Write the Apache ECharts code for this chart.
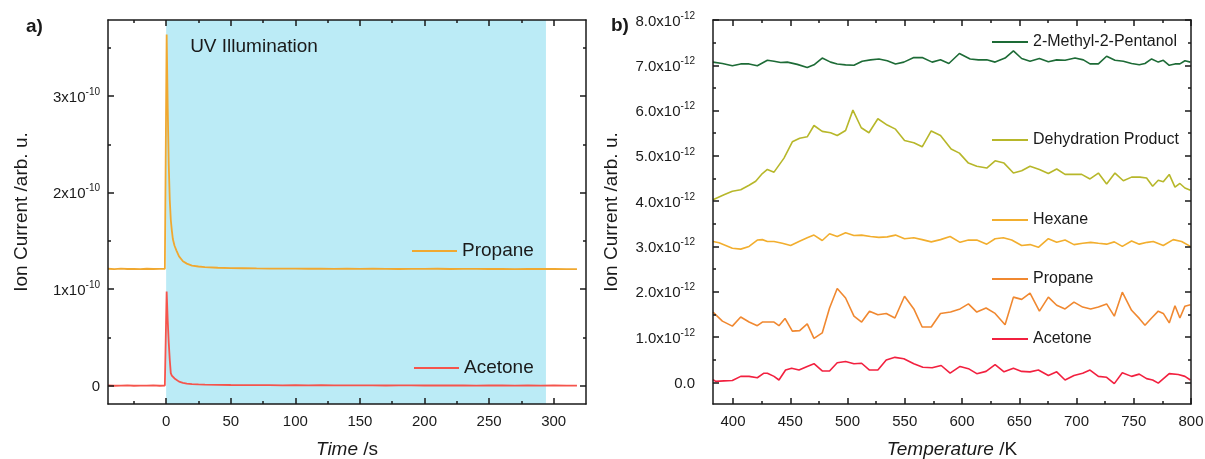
<!DOCTYPE html>
<html>
<head>
<meta charset="utf-8">
<title>Ion current traces</title>
<script src="https://cdn.jsdelivr.net/npm/echarts@6/dist/echarts.min.js"></script>
<style>
  html, body { margin: 0; padding: 0; background: #ffffff; }
  #chart { width: 1205px; height: 459px; }
</style>
</head>
<body>
<div id="chart"></div>
<script>
// ---------- panel a) : ion current during UV illumination (values in 1e-10 arb. u.) ----------
const timeS = [-45,-40,-35,-30,-25,-20,-15,-10,-5,-1,
  0,0.4,1.2,2.0,2.8,3.6,4.4,5.2,6.5,8,10,13,16,20,25,30,
  40,50,60,70,80,90,100,110,120,130,140,150,160,170,180,190,200,210,220,230,240,250,260,270,280,290,300,310,318];
const propaneUV = [1.212,1.208,1.213,1.209,1.211,1.207,1.212,1.209,1.211,1.210,
  1.210,3.64,2.90,2.30,1.93,1.72,1.61,1.52,1.45,1.40,1.34,1.29,1.265,1.245,1.235,1.228,
  1.222,1.219,1.217,1.215,1.214,1.213,1.214,1.212,1.213,1.211,1.212,1.210,1.212,1.211,1.209,1.211,1.210,1.212,1.209,1.210,1.211,1.209,1.210,1.208,1.210,1.209,1.209,1.207,1.208];
const acetoneUV = [0.002,-0.001,0.001,0.002,-0.001,0.001,0.000,0.002,-0.001,0.001,
  0.000,0.975,0.68,0.45,0.27,0.13,0.105,0.092,0.075,0.058,0.042,0.030,0.022,0.017,0.013,0.011,
  0.009,0.007,0.006,0.005,0.006,0.004,0.005,0.004,0.005,0.003,0.004,0.003,0.004,0.002,0.003,0.004,0.002,0.003,0.002,0.003,0.001,0.002,0.003,0.001,0.002,0.001,0.002,0.001,0.001];
const uvWindow = [0, 294];
const timeTicks = [0, 50, 100, 150, 200, 250, 300];
const timeMinorTicks = [-25, 25, 75, 125, 175, 225, 275];
const currentTicksA = [0, 1, 2, 3];
const currentMinorTicksA = [0.5, 1.5, 2.5, 3.5];

// ---------- panel b) : desorption traces vs temperature (values in 1e-12 arb. u.) ----------
const tempMethyl = [382.5,390.7,399.4,406.7,414,421.2,430,435.8,441.6,447.4,456.1,464.8,470.7,477.9,485.2,491,498.3,505.6,512.8,520.1,527.4,534.7,541.9,549.2,557.9,565.2,573.9,581.2,588.5,
  597.7,607.1,614.3,621.6,628.9,637.6,644.9,652.1,659.4,667.6,675.4,682.7,690,698.7,706,711.8,719.1,726.3,733.6,740.9,748.1,754.8,759.8,765.6,771.4,775.8,781,786,790.3,794.7,799.5];
const methylPentanol = [7.07,7.04,6.99,7.03,7.03,6.99,7.11,7.09,7.06,7.07,7.02,6.95,7.01,7.16,7.07,7.03,7.01,7.00,7.09,7.12,7.14,7.10,7.03,7.07,7.17,7.17,7.07,7.12,7.04,
  7.26,7.14,7.12,7.12,7.07,7.16,7.32,7.15,7.09,7.15,7.08,7.12,7.11,7.16,7.12,7.03,7.03,7.20,7.11,7.09,7.04,7.01,7.04,7.14,7.07,7.11,7.00,7.03,7.03,7.10,7.07];

const tempDehydration = [382.5,392.1,399.4,406.7,414,419.8,425.6,430,435.8,444.5,451.8,458.2,464.8,470.7,477.9,485.2,491,498.3,504.7,512,518.7,526.5,534.7,541.9,549.8,557.9,565.2,573.1,581.2,590.5,
  597.7,605.6,612.9,621.6,628.9,636.7,644.9,652.1,659.4,667.6,675.4,682.7,690,697.2,704.5,711.8,719.1,726.3,733.6,740.9,748.1,755.4,761.2,766.5,771.4,775.8,781,786,790.3,794.7,799.5];
const dehydrationProduct = [4.03,4.14,4.22,4.25,4.35,4.44,4.61,4.70,4.64,4.95,5.31,5.39,5.42,5.67,5.54,5.51,5.45,5.56,6.01,5.62,5.51,5.82,5.68,5.59,5.34,5.29,5.20,5.55,5.45,5.15,
  5.06,4.84,4.77,4.73,4.89,4.84,4.62,4.67,4.77,4.70,4.61,4.71,4.59,4.59,4.59,4.49,4.62,4.38,4.62,4.45,4.53,4.53,4.51,4.33,4.46,4.43,4.59,4.31,4.39,4.29,4.24];

const tempHexane = [382.5,387.8,399.4,406.7,414,421.2,425.6,430,435.8,443,450.3,457.6,464.8,470.7,477.9,484.3,491,498.3,505.6,512.3,520.1,527.4,534.7,541.9,549.8,557.9,565.2,573.1,581.2,589.6,
  598.3,605.6,612.9,621.6,628.9,636.1,643.4,652.1,659.4,666.7,675.4,682.7,690,697.8,705.4,712.4,719.1,726.3,733,740,748.1,754.8,761.8,767,775.8,784.5,791.8,799.5];
const hexane = [3.11,3.08,2.96,2.94,3.00,3.14,3.15,3.11,3.11,3.07,3.02,3.11,3.19,3.25,3.13,3.28,3.22,3.30,3.24,3.25,3.22,3.20,3.21,3.25,3.17,3.19,3.15,3.10,3.15,3.22,
  3.09,3.14,3.14,3.05,3.17,3.19,3.14,3.02,3.04,2.98,3.17,3.09,3.14,3.04,3.07,3.09,3.07,3.05,3.10,3.00,3.12,3.05,3.09,3.11,3.02,3.15,3.11,3.00];

const tempPropane = [382.5,390.7,399.4,406.7,414,421.2,425.6,435.8,440.1,445.4,451.8,458.2,464.8,470.7,477.9,484.3,491,498.3,505.6,512.3,519.2,526.5,533.8,541.4,549.8,557.9,565.2,573.1,581.2,590,
  598.3,605.6,612.9,621,628.9,637.6,644.9,652.1,659.4,667.6,675.4,682.7,690,697.8,705.4,712.4,719.1,726.3,733,740,748.1,754.8,759.8,765.6,771.4,775.8,781,786,790.3,794.7,799.5];
const propaneTPD = [1.55,1.35,1.24,1.44,1.33,1.25,1.33,1.33,1.25,1.41,1.13,1.14,1.29,0.97,1.09,1.64,2.07,1.86,1.46,1.33,1.57,1.49,1.52,1.42,1.90,1.62,1.22,1.22,1.52,1.55,
  1.62,1.73,1.55,1.64,1.52,1.27,1.88,1.83,1.97,1.57,1.88,1.70,1.62,1.77,1.66,1.62,1.66,1.73,1.46,1.99,1.59,1.41,1.26,1.42,1.57,1.52,1.31,1.69,1.42,1.68,1.71];

const tempAcetone = [382.5,384.9,392.1,399.4,406.7,414,421.2,427,430,435.8,440.1,445.9,451.2,457.6,464.8,470.7,477.9,484.3,491,498.3,505.6,512.3,519.2,526.5,533.8,541.4,549.2,557.9,565.8,573.9,581.8,589.6,
  598.3,605.6,612.9,621,628.9,636.7,644.9,652.1,659.4,666.7,675.4,682.7,690,697.8,705.4,711.8,719.1,726.3,733,740,748.1,754.8,761.2,766.5,771.4,781,788.9,794.7,799.5];
const acetoneTPD = [0.06,0.02,0.03,0.04,0.13,0.13,0.10,0.20,0.20,0.13,0.05,0.27,0.31,0.27,0.35,0.41,0.25,0.25,0.43,0.46,0.41,0.42,0.27,0.27,0.49,0.55,0.52,0.41,0.33,0.32,0.37,0.20,
  0.35,0.30,0.19,0.24,0.39,0.23,0.31,0.24,0.23,0.27,0.15,0.23,0.05,0.15,0.20,0.27,0.13,0.11,-0.03,0.21,0.13,0.18,0.08,0.05,-0.02,0.19,0.17,0.13,0.05];

const tempTicks = [400, 450, 500, 550, 600, 650, 700, 750, 800];
const tempMinorTicks = [425, 475, 525, 575, 625, 675, 725, 775];
const currentTicksB = [0, 1, 2, 3, 4, 5, 6, 7, 8];
const currentMinorTicksB = [0.5, 1.5, 2.5, 3.5, 4.5, 5.5, 6.5, 7.5];

// ---------- styling ----------
const FONT = '"Liberation Sans", Arial, Helvetica, sans-serif';
const INK = '#1a1a1a';
const MAJOR_LEN = 6, MINOR_LEN = 3;

const pairs = (xs, ys) => xs.map((x, i) => [x, ys[i]]);

// Superscript exponent labels such as 3x10^-10
const supRich = {
  m: { fontSize: 15, fontFamily: FONT, color: INK, lineHeight: 18, verticalAlign: 'bottom' },
  s: { fontSize: 10, fontFamily: FONT, color: INK, lineHeight: 10, verticalAlign: 'top' }
};

// One framing axis: drawn on a given side of a grid, ticks pointing inward
function frameAxis(grid, min, max, position, ticks, tickLen, showLine, label, extra) {
  const ax = {
    type: 'value', gridIndex: grid, min: min, max: max, position: position, z: 10,
    axisLine: { show: showLine, onZero: false, lineStyle: { color: INK, width: 1.5 } },
    axisTick: { show: true, inside: true, length: tickLen, customValues: ticks,
                lineStyle: { color: INK, width: 1.5 } },
    axisLabel: label || { show: false },
    splitLine: { show: false },
    axisPointer: { show: false }
  };
  return Object.assign(ax, extra || {});
}

// fixed plot rectangles; the outer labels are allowed to sit outside them
const gridA = { left: 108, top: 20, width: 478, height: 384, outerBoundsMode: 'none', containLabel: false };
const gridB = { left: 713, top: 20, width: 478, height: 384, outerBoundsMode: 'none', containLabel: false };

const xA = [-45, 325], yA = [-0.19, 3.79];
const xB = [382.5, 800], yB = [-0.48, 8.0];

const xAxes = [
  // panel a)
  frameAxis(0, xA[0], xA[1], 'bottom', timeTicks, MAJOR_LEN, true, {
    show: true, customValues: timeTicks, margin: 10,
    fontSize: 15, fontFamily: FONT, color: INK
  }, {
    name: '{i|Time} /s', nameLocation: 'middle', nameGap: 36,
    nameTextStyle: { fontSize: 19, fontFamily: FONT, color: INK,
      rich: { i: { fontSize: 19, fontFamily: FONT, color: INK, fontStyle: 'italic' } } }
  }),
  frameAxis(0, xA[0], xA[1], 'bottom', timeMinorTicks, MINOR_LEN, false),
  frameAxis(0, xA[0], xA[1], 'top', timeTicks, MAJOR_LEN, true),
  frameAxis(0, xA[0], xA[1], 'top', timeMinorTicks, MINOR_LEN, false),
  // panel b)
  frameAxis(1, xB[0], xB[1], 'bottom', tempTicks, MAJOR_LEN, true, {
    show: true, customValues: tempTicks, margin: 10,
    fontSize: 15, fontFamily: FONT, color: INK
  }, {
    name: '{i|Temperature} /K', nameLocation: 'middle', nameGap: 36,
    nameTextStyle: { fontSize: 19, fontFamily: FONT, color: INK,
      rich: { i: { fontSize: 19, fontFamily: FONT, color: INK, fontStyle: 'italic' } } }
  }),
  frameAxis(1, xB[0], xB[1], 'bottom', tempMinorTicks, MINOR_LEN, false),
  frameAxis(1, xB[0], xB[1], 'top', tempTicks, MAJOR_LEN, true),
  frameAxis(1, xB[0], xB[1], 'top', tempMinorTicks, MINOR_LEN, false)
];

const yAxes = [
  // panel a)
  frameAxis(0, yA[0], yA[1], 'left', currentTicksA, MAJOR_LEN, true, {
    show: true, customValues: currentTicksA, margin: 8,
    formatter: v => v === 0 ? '{m|0}' : '{m|' + v + 'x10}{s|-10}',
    rich: supRich
  }, {
    name: 'Ion Current /arb. u.', nameLocation: 'middle', nameGap: 77, nameRotate: 90,
    nameTextStyle: { fontSize: 19, fontFamily: FONT, color: INK }
  }),
  frameAxis(0, yA[0], yA[1], 'left', currentMinorTicksA, MINOR_LEN, false),
  frameAxis(0, yA[0], yA[1], 'right', currentTicksA, MAJOR_LEN, true),
  frameAxis(0, yA[0], yA[1], 'right', currentMinorTicksA, MINOR_LEN, false),
  // panel b)
  frameAxis(1, yB[0], yB[1], 'left', currentTicksB, MAJOR_LEN, true, {
    show: true, customValues: currentTicksB, margin: 18,
    formatter: v => v === 0 ? '{m|0.0}' : '{m|' + v.toFixed(1) + 'x10}{s|-12}',
    rich: supRich
  }, {
    name: 'Ion Current /arb. u.', nameLocation: 'middle', nameGap: 92, nameRotate: 90,
    nameTextStyle: { fontSize: 19, fontFamily: FONT, color: INK }
  }),
  frameAxis(1, yB[0], yB[1], 'left', currentMinorTicksB, MINOR_LEN, false),
  frameAxis(1, yB[0], yB[1], 'right', currentTicksB, MAJOR_LEN, true),
  frameAxis(1, yB[0], yB[1], 'right', currentMinorTicksB, MINOR_LEN, false)
];

function trace(name, color, xs, ys, panel, width) {
  return {
    type: 'line', name: name, color: color,
    xAxisIndex: panel * 4, yAxisIndex: panel * 4,
    data: pairs(xs, ys),
    symbol: 'none', showSymbol: false, smooth: false, clip: true,
    lineStyle: { color: color, width: width },
    z: 3, silent: true
  };
}

const series = [
  // UV illumination window behind the traces
  {
    type: 'line', name: 'uv', xAxisIndex: 0, yAxisIndex: 0, data: [], z: 1, silent: true,
    markArea: {
      silent: true,
      itemStyle: { color: '#bbebf6' },
      label: { show: true, position: [24, 17], fontSize: 19, fontFamily: FONT, color: INK },
      data: [[{ name: 'UV Illumination', xAxis: uvWindow[0] }, { xAxis: uvWindow[1] }]]
    }
  },
  trace('Propane', '#F0A830', timeS, propaneUV, 0, 1.8),
  trace('Acetone', '#F5544C', timeS, acetoneUV, 0, 1.8),
  trace('2-Methyl-2-Pentanol', '#1D6B36', tempMethyl, methylPentanol, 1, 1.6),
  trace('Dehydration Product', '#B7B72A', tempDehydration, dehydrationProduct, 1, 1.6),
  trace('Hexane', '#F2AE2E', tempHexane, hexane, 1, 1.6),
  trace('Propane (TPD)', '#F08830', tempPropane, propaneTPD, 1, 1.6),
  trace('Acetone (TPD)', '#F2203F', tempAcetone, acetoneTPD, 1, 1.6)
];

function legendAt(name, left, top, iconW, fontSize, lineH) {
  return {
    data: [name], left: left, top: top, padding: 0, orient: 'vertical',
    icon: 'rect', itemWidth: iconW, itemHeight: 1.8, selectedMode: false,
    formatter: n => n.replace(' (TPD)', ''),
    textStyle: { fontSize: fontSize, fontFamily: FONT, color: INK, lineHeight: lineH }
  };
}

const legends = [
  legendAt('Propane', 412, 241, 45, 19, 20),
  legendAt('Acetone', 414, 358, 45, 19, 20),
  legendAt('2-Methyl-2-Pentanol', 992, 33, 36, 16, 18),
  legendAt('Dehydration Product', 992, 131, 36, 16, 18),
  legendAt('Hexane', 992, 211, 36, 16, 18),
  legendAt('Propane (TPD)', 992, 270, 36, 16, 18),
  legendAt('Acetone (TPD)', 992, 330, 36, 16, 18)
];

const chart = echarts.init(document.getElementById('chart'), null, { renderer: 'canvas' });
chart.setOption({
  animation: false,
  backgroundColor: '#ffffff',
  grid: [gridA, gridB],
  xAxis: xAxes,
  yAxis: yAxes,
  legend: legends,
  series: series,
  graphic: [
    { type: 'text', left: 26, top: 17, style: { text: 'a)', fontSize: 19, fontWeight: 'bold', fontFamily: FONT, fill: INK } },
    { type: 'text', left: 611, top: 16, style: { text: 'b)', fontSize: 19, fontWeight: 'bold', fontFamily: FONT, fill: INK } }
  ]
});
</script>
</body>
</html>
